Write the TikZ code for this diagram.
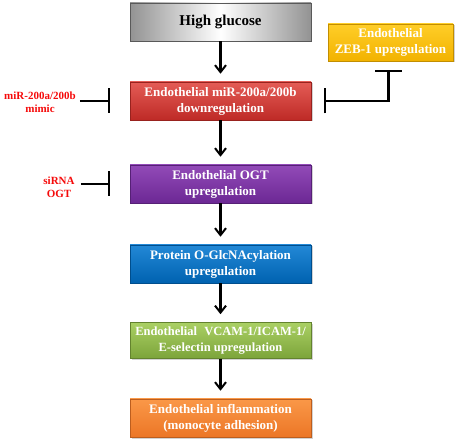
\documentclass[tikz,border=0pt]{standalone}
\usepackage{fontspec}
\setmainfont{Liberation Serif}
\usepackage{xcolor}
\usetikzlibrary{
    arrows.meta,
    shadows,
    positioning
}

\definecolor{redtop}{RGB}{228,92,86}
\definecolor{redbot}{RGB}{190,42,38}
\definecolor{purtop}{RGB}{146,74,184}
\definecolor{purbot}{RGB}{108,40,148}
\definecolor{blutop}{RGB}{34,136,214}
\definecolor{blubot}{RGB}{0,98,176}
\definecolor{grntop}{RGB}{170,208,100}
\definecolor{grnbot}{RGB}{124,164,58}
\definecolor{orgtop}{RGB}{250,152,72}
\definecolor{orgbot}{RGB}{236,118,38}
\definecolor{yeltop}{RGB}{255,206,40}
\definecolor{yelbot}{RGB}{242,178,0}
\definecolor{inhred}{RGB}{245,10,10}

\tikzset{
    pathbox/.style 2 args={
        draw=#2!80!black, line width=0.5pt,
        top color=#1, bottom color=#2,
        minimum width=181pt, minimum height=38pt, inner sep=0pt,
        align=center, text=white,
        font=\bfseries\fontsize{13}{16}\selectfont,
        drop shadow={shadow xshift=1.5pt, shadow yshift=-1.5pt, fill=black!35}
    },
    flow/.style={line width=2.2pt, -{Straight Barb[length=7pt,width=11pt,line width=2pt]}, shorten >=8pt},
    inhib/.style={line width=2.2pt, -{Bar[width=25pt,line width=2.2pt]}},
    drug/.style={align=center, text=inhred, inner sep=2pt,
        font=\bfseries\fontsize{11}{13}\selectfont}
}

\begin{document}
\begin{tikzpicture}[x=1pt, y=-1pt]
    \useasboundingbox (0, 0) rectangle (459, 444);
    % main pathway
    \node[draw=gray!70!black, line width=0.5pt, left color=gray!85, right color=gray!85, middle color=white,
        minimum width=181pt, minimum height=38pt, inner sep=0pt,
        font=\bfseries\fontsize{15}{18}\selectfont] (hg) at (220.5, 22) {High glucose};
    \node[pathbox={redtop}{redbot}] (mir) at (220.5, 101) {Endothelial miR-200a/200b\\downregulation};
    \node[pathbox={purtop}{purbot}] (ogt) at (220.5, 184) {Endothelial OGT\\upregulation};
    \node[pathbox={blutop}{blubot}] (glc) at (220.5, 264) {Protein O-GlcNAcylation\\upregulation};
    \node[pathbox={grntop}{grnbot}, minimum height=36pt, font=\bfseries\fontsize{12.5}{16}\selectfont] (cam) at (220.5, 340.5) {Endothelial\,\, VCAM-1/ICAM-1/\\E-selectin upregulation};
    \node[pathbox={orgtop}{orgbot}] (infl) at (220.5, 418) {Endothelial inflammation\\(monocyte adhesion)};
    \node[pathbox={yeltop}{yelbot}, minimum width=125pt, minimum height=37pt] (zeb) at (390.5, 42.5) {Endothelial\\ZEB-1 upregulation};
    % inhibitors
    \node[drug] (mimic) at (40, 102) {miR-200a/200b\\mimic};
    \node[drug] (sirna) at (59, 187) {siRNA\\OGT};
    \draw[flow] (hg) -- (mir);
    \draw[flow] (mir) -- (ogt);
    \draw[flow] (ogt) -- (glc);
    \draw[flow] (glc) -- (cam);
    \draw[flow] (cam) -- (infl);
    \draw[inhib, shorten >=20pt] ([xshift=2pt]mimic.east |- mir.west) -- (mir.west);
    \draw[inhib, shorten >=20pt] ([xshift=4pt]sirna.east |- ogt.west) -- (ogt.west);
    \draw[line width=2.2pt, {Bar[width=27pt,line width=2.2pt]}-{Bar[width=25pt,line width=2.2pt]},
        shorten <=9pt, shorten >=13pt] ([xshift=-2pt]zeb.south) |- (mir.east);
\end{tikzpicture}
\end{document}
